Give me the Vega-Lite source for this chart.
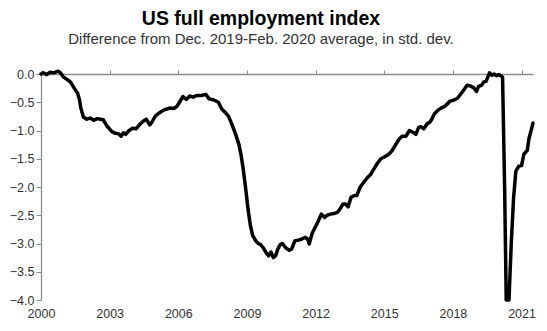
{
  "$schema": "https://vega.github.io/schema/vega-lite/v6.json",
  "autosize": {"type": "none"},
  "width": 492,
  "height": 226,
  "padding": {"left": 41, "top": 74, "right": 14, "bottom": 31},
  "background": "white",
  "config": {
    "view": {"stroke": null},
    "font": "Liberation Sans",
    "axis": {"labelFont": "Liberation Sans", "labelColor": "#333333", "labelFontSize": 12.5, "domainColor": "#8c8c8c", "tickColor": "#8c8c8c", "grid": false, "title": null, "labelFlush": false, "labelOverlap": false, "labelBound": false}
  },
  "title": {
    "text": "US full employment index",
    "subtitle": "Difference from Dec. 2019-Feb. 2020 average, in std. dev.",
    "anchor": "middle",
    "frame": "group",
    "dx": -26,
    "offset": 20,
    "font": "Liberation Sans",
    "fontSize": 19.5,
    "fontWeight": "bold",
    "color": "#000000",
    "subtitleFont": "Liberation Sans",
    "subtitleFontSize": 15,
    "subtitleColor": "#333333",
    "subtitlePadding": 3
  },
  "data": {"values": [
    {"year": 2000.0, "value": 0.0},
    {"year": 2000.1, "value": 0.02},
    {"year": 2000.25, "value": -0.01},
    {"year": 2000.4, "value": 0.03},
    {"year": 2000.55, "value": 0.02},
    {"year": 2000.75, "value": 0.05},
    {"year": 2000.85, "value": 0.02},
    {"year": 2000.97, "value": -0.05},
    {"year": 2001.15, "value": -0.1},
    {"year": 2001.3, "value": -0.15},
    {"year": 2001.45, "value": -0.25},
    {"year": 2001.6, "value": -0.34},
    {"year": 2001.68, "value": -0.45},
    {"year": 2001.74, "value": -0.6},
    {"year": 2001.85, "value": -0.76},
    {"year": 2002.0, "value": -0.8},
    {"year": 2002.15, "value": -0.78},
    {"year": 2002.3, "value": -0.82},
    {"year": 2002.45, "value": -0.79},
    {"year": 2002.6, "value": -0.8},
    {"year": 2002.72, "value": -0.81},
    {"year": 2002.9, "value": -0.93},
    {"year": 2003.1, "value": -1.02},
    {"year": 2003.25, "value": -1.05},
    {"year": 2003.4, "value": -1.06},
    {"year": 2003.5, "value": -1.1},
    {"year": 2003.6, "value": -1.04},
    {"year": 2003.7, "value": -1.07},
    {"year": 2003.85, "value": -1.0},
    {"year": 2004.0, "value": -0.96},
    {"year": 2004.15, "value": -0.97},
    {"year": 2004.3, "value": -0.9},
    {"year": 2004.45, "value": -0.84},
    {"year": 2004.6, "value": -0.8},
    {"year": 2004.75, "value": -0.9},
    {"year": 2004.85, "value": -0.85},
    {"year": 2005.0, "value": -0.74},
    {"year": 2005.2, "value": -0.68},
    {"year": 2005.35, "value": -0.64},
    {"year": 2005.5, "value": -0.62},
    {"year": 2005.65, "value": -0.6},
    {"year": 2005.8, "value": -0.61},
    {"year": 2005.95, "value": -0.57},
    {"year": 2006.05, "value": -0.5},
    {"year": 2006.2, "value": -0.4},
    {"year": 2006.35, "value": -0.45},
    {"year": 2006.5, "value": -0.39},
    {"year": 2006.65, "value": -0.41},
    {"year": 2006.8, "value": -0.38},
    {"year": 2007.0, "value": -0.38},
    {"year": 2007.2, "value": -0.36},
    {"year": 2007.35, "value": -0.44},
    {"year": 2007.55, "value": -0.46},
    {"year": 2007.75, "value": -0.5},
    {"year": 2007.9, "value": -0.62},
    {"year": 2008.05, "value": -0.68},
    {"year": 2008.2, "value": -0.75},
    {"year": 2008.35, "value": -0.9},
    {"year": 2008.5, "value": -1.06},
    {"year": 2008.65, "value": -1.25},
    {"year": 2008.75, "value": -1.45},
    {"year": 2008.85, "value": -1.72},
    {"year": 2008.95, "value": -2.05},
    {"year": 2009.05, "value": -2.4},
    {"year": 2009.15, "value": -2.68},
    {"year": 2009.25, "value": -2.86},
    {"year": 2009.4, "value": -2.96},
    {"year": 2009.5, "value": -3.0},
    {"year": 2009.6, "value": -3.02},
    {"year": 2009.72, "value": -3.08},
    {"year": 2009.85, "value": -3.17},
    {"year": 2009.95, "value": -3.22},
    {"year": 2010.05, "value": -3.15},
    {"year": 2010.15, "value": -3.25},
    {"year": 2010.25, "value": -3.22},
    {"year": 2010.35, "value": -3.1},
    {"year": 2010.45, "value": -3.02},
    {"year": 2010.55, "value": -3.0},
    {"year": 2010.7, "value": -3.08},
    {"year": 2010.85, "value": -3.12},
    {"year": 2010.95, "value": -3.1},
    {"year": 2011.1, "value": -2.95},
    {"year": 2011.25, "value": -2.94},
    {"year": 2011.4, "value": -2.92},
    {"year": 2011.55, "value": -2.89},
    {"year": 2011.65, "value": -2.92},
    {"year": 2011.72, "value": -3.01},
    {"year": 2011.85, "value": -2.82},
    {"year": 2012.0, "value": -2.7},
    {"year": 2012.12, "value": -2.6},
    {"year": 2012.25, "value": -2.48},
    {"year": 2012.4, "value": -2.54},
    {"year": 2012.5, "value": -2.5},
    {"year": 2012.65, "value": -2.48},
    {"year": 2012.8, "value": -2.47},
    {"year": 2012.95, "value": -2.45},
    {"year": 2013.05, "value": -2.4},
    {"year": 2013.2, "value": -2.3},
    {"year": 2013.3, "value": -2.3},
    {"year": 2013.42, "value": -2.35},
    {"year": 2013.55, "value": -2.18},
    {"year": 2013.7, "value": -2.15},
    {"year": 2013.8, "value": -2.15},
    {"year": 2013.95, "value": -2.0},
    {"year": 2014.1, "value": -1.92},
    {"year": 2014.25, "value": -1.84},
    {"year": 2014.4, "value": -1.78},
    {"year": 2014.55, "value": -1.68},
    {"year": 2014.7, "value": -1.58},
    {"year": 2014.85, "value": -1.5},
    {"year": 2015.0, "value": -1.47},
    {"year": 2015.2, "value": -1.42},
    {"year": 2015.35, "value": -1.35},
    {"year": 2015.5, "value": -1.25},
    {"year": 2015.65, "value": -1.15},
    {"year": 2015.78, "value": -1.1},
    {"year": 2015.95, "value": -1.1},
    {"year": 2016.1, "value": -1.0},
    {"year": 2016.25, "value": -1.03},
    {"year": 2016.38, "value": -1.07},
    {"year": 2016.5, "value": -0.95},
    {"year": 2016.6, "value": -0.93},
    {"year": 2016.73, "value": -0.97},
    {"year": 2016.85, "value": -0.89},
    {"year": 2017.0, "value": -0.85},
    {"year": 2017.1, "value": -0.78},
    {"year": 2017.2, "value": -0.7},
    {"year": 2017.35, "value": -0.64},
    {"year": 2017.5, "value": -0.6},
    {"year": 2017.65, "value": -0.57},
    {"year": 2017.78, "value": -0.52},
    {"year": 2017.88, "value": -0.48},
    {"year": 2018.05, "value": -0.46},
    {"year": 2018.2, "value": -0.43},
    {"year": 2018.35, "value": -0.35},
    {"year": 2018.5, "value": -0.27},
    {"year": 2018.62, "value": -0.2},
    {"year": 2018.75, "value": -0.21},
    {"year": 2018.9, "value": -0.24},
    {"year": 2019.03, "value": -0.31},
    {"year": 2019.12, "value": -0.22},
    {"year": 2019.25, "value": -0.2},
    {"year": 2019.35, "value": -0.14},
    {"year": 2019.45, "value": -0.13},
    {"year": 2019.52, "value": -0.06},
    {"year": 2019.6, "value": 0.02},
    {"year": 2019.7, "value": -0.02},
    {"year": 2019.8, "value": 0.0},
    {"year": 2019.9, "value": -0.03},
    {"year": 2020.0, "value": -0.01},
    {"year": 2020.1, "value": -0.03},
    {"year": 2020.17, "value": -0.06},
    {"year": 2020.26, "value": -2.0},
    {"year": 2020.33, "value": -4.0},
    {"year": 2020.45, "value": -4.0},
    {"year": 2020.55, "value": -3.0},
    {"year": 2020.65, "value": -2.2},
    {"year": 2020.75, "value": -1.72},
    {"year": 2020.88, "value": -1.63},
    {"year": 2021.0, "value": -1.62},
    {"year": 2021.1, "value": -1.42},
    {"year": 2021.25, "value": -1.35},
    {"year": 2021.32, "value": -1.15},
    {"year": 2021.5, "value": -0.87}
  ]},
  "resolve": {"axis": {"x": "independent"}},
  "layer": [
    {
      "mark": {"type": "line", "color": "#000000", "strokeWidth": 3.5, "strokeJoin": "round", "strokeCap": "round", "clip": false},
      "encoding": {
        "x": {"field": "year", "type": "quantitative", "scale": {"domain": [2000, 2021.5], "nice": false, "zero": false},
          "axis": {"orient": "top", "labels": false, "values": [2000, 2003, 2006, 2009, 2012, 2015, 2018, 2021], "tickSize": 4, "domainWidth": 1.3}},
        "y": {"field": "value", "type": "quantitative", "scale": {"domain": [-4, 0], "nice": false, "zero": false},
          "axis": {"values": [0, -0.5, -1, -1.5, -2, -2.5, -3, -3.5, -4], "format": ".1f", "tickSize": 5, "labelPadding": 2, "domainWidth": 1.3}}
      }
    },
    {
      "mark": {"type": "line", "opacity": 0},
      "encoding": {
        "x": {"field": "year", "type": "quantitative",
          "axis": {"orient": "bottom", "domain": false, "ticks": false, "values": [2000, 2003, 2006, 2009, 2012, 2015, 2018, 2021], "format": "d", "labelPadding": 7}},
        "y": {"field": "value", "type": "quantitative",
          "axis": {"values": [0, -0.5, -1, -1.5, -2, -2.5, -3, -3.5, -4], "format": ".1f", "tickSize": 5, "labelPadding": 2, "domainWidth": 1.3}}
      }
    }
  ]
}
